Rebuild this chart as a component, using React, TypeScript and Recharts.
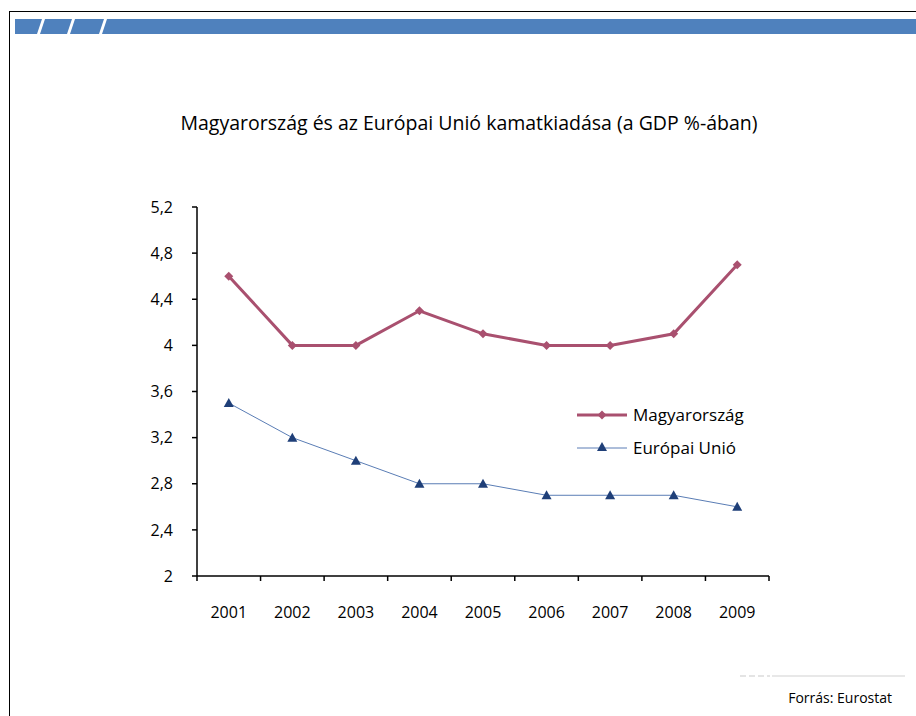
import { LineChart, Line, XAxis, YAxis } from 'recharts'

const years = ['2001', '2002', '2003', '2004', '2005', '2006', '2007', '2008', '2009']
const magyar = [4.6, 4.0, 4.0, 4.3, 4.1, 4.0, 4.0, 4.1, 4.7]
const eu = [3.5, 3.2, 3.0, 2.8, 2.8, 2.7, 2.7, 2.7, 2.6]
const yTicks = [2, 2.4, 2.8, 3.2, 3.6, 4, 4.4, 4.8, 5.2]

const data = years.map((y, i) => ({ year: y, hu: magyar[i], eu: eu[i] }))

const FONT = '"Open Sans", sans-serif'
const HU_COLOR = '#A9506F'
const EU_LINE = '#5A7DB5'
const EU_MARK = '#1F3F78'

// plot box
const PLOT_L = 197
const PLOT_R = 769
const PLOT_T = 207
const PLOT_B = 576
const Y_W = 60
const X_H = 60
const half = (PLOT_R - PLOT_L) / years.length / 2

function YearTick(props: any) {
  const { x, y, payload, index } = props
  return (
    <g>
      <line x1={x - half} x2={x - half} y1={y} y2={y + 5} stroke="#000" strokeWidth={1.5} />
      {index === years.length - 1 && (
        <line x1={x + half} x2={x + half} y1={y} y2={y + 5} stroke="#000" strokeWidth={1.5} />
      )}
      <text x={x} y={y + 42} textAnchor="middle" fontSize={16} fontFamily={FONT} fill="#000">
        {payload.value}
      </text>
    </g>
  )
}

function Diamond(props: any) {
  const { cx, cy } = props
  if (cx == null || cy == null) return null
  const r = 4.5
  return <path d={`M${cx},${cy - r}L${cx + r},${cy}L${cx},${cy + r}L${cx - r},${cy}Z`} fill={HU_COLOR} />
}

function Tri(props: any) {
  const { cx, cy } = props
  if (cx == null || cy == null) return null
  const r = 5
  return <path d={`M${cx},${cy - r}L${cx + r},${cy + r * 0.8}L${cx - r},${cy + r * 0.8}Z`} fill={EU_MARK} />
}

function LegendBox() {
  const items = [
    { label: 'Magyarország', color: HU_COLOR, w: 3, mark: 'd' },
    { label: 'Európai Unió', color: EU_LINE, w: 1, mark: 't' },
  ]
  return (
    <svg width={190} height={70}>
      {items.map((it, i) => {
        const cy = 12 + i * 33
        return (
          <g key={it.label}>
            <line x1={2} x2={52} y1={cy} y2={cy} stroke={it.color} strokeWidth={it.w} />
            {it.mark === 'd' ? <Diamond cx={27} cy={cy} /> : <Tri cx={27} cy={cy - 1} />}
            <text x={58} y={cy + 6} fontSize={17} fontFamily={FONT} fill="#000">{it.label}</text>
          </g>
        )
      })}
    </svg>
  )
}

export default function App() {
  return (
    <div style={{ position: 'absolute', left: 0, top: 0, width: 916, height: 716, background: '#fff', overflow: 'hidden' }}>
      <div style={{ position: 'absolute', left: 9, top: 11, width: 940, height: 760, border: '1.5px solid #000', boxSizing: 'border-box' }} />
      <svg style={{ position: 'absolute', left: 0, top: 0 }} width={916} height={40}>
        <rect x={15} y={19} width={901} height={15} fill="#4F81BD" />
        {[38, 68, 100].map(x => (
          <polygon key={x} points={`${x + 4},19 ${x + 7},19 ${x + 2},34 ${x - 1},34`} fill="#fff" />
        ))}
      </svg>
      <div style={{ position: 'absolute', left: 0, width: 938, top: 109, textAlign: 'center', fontFamily: FONT, fontSize: 19.5, color: '#000' }}>
        Magyarország és az Európai Unió kamatkiadása (a GDP %-ában)
      </div>
      <div style={{ position: 'absolute', left: 0, top: 0 }}>
        <LineChart
          width={916}
          height={716}
          data={data}
          margin={{ top: PLOT_T, left: PLOT_L - Y_W, right: 916 - PLOT_R, bottom: 716 - PLOT_B - X_H }}
        >
          <XAxis
            dataKey="year"
            height={X_H}
            padding={{ left: half, right: half }}
            tickLine={false}
            tickSize={0}
            tickMargin={0}
            axisLine={{ stroke: '#000', strokeWidth: 1.5 }}
            tick={<YearTick />}
            interval={0}
          />
          <YAxis
            width={Y_W}
            domain={[2, 5.2]}
            ticks={yTicks}
            tickSize={5}
            tickMargin={19}
            axisLine={{ stroke: '#000', strokeWidth: 1.5 }}
            tickLine={{ stroke: '#000', strokeWidth: 1.5 }}
            tick={{ fontSize: 16, fontFamily: FONT, fill: '#000' }}
            tickFormatter={v => String(v).replace('.', ',')}
          />
          <Line type="linear" dataKey="hu" stroke={HU_COLOR} strokeWidth={3} dot={<Diamond />} activeDot={false} isAnimationActive={false} />
          <Line type="linear" dataKey="eu" stroke={EU_LINE} strokeWidth={1} dot={<Tri />} activeDot={false} isAnimationActive={false} />
        </LineChart>
      </div>
      <div style={{ position: 'absolute', left: 575, top: 403 }}>
        <LegendBox />
      </div>
      <svg style={{ position: 'absolute', left: 0, top: 0 }} width={916} height={716} pointerEvents="none">
        <line x1={740} x2={770} y1={676} y2={676} stroke="#e4e4e4" strokeWidth={2} strokeDasharray="6 3" />
        <line x1={772} x2={905} y1={676} y2={676} stroke="#e8e8e8" strokeWidth={2} />
      </svg>
      <div style={{ position: 'absolute', right: 24, top: 688, fontFamily: FONT, fontSize: 14, color: '#000' }}>
        Forrás: Eurostat
      </div>
    </div>
  )
}
